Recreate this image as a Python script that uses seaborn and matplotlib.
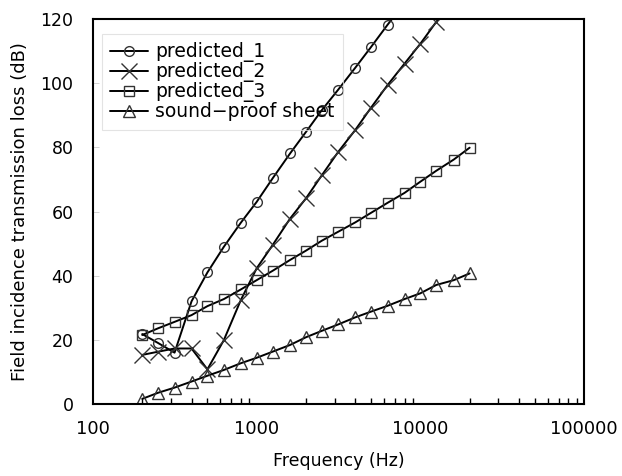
import matplotlib
matplotlib.use("Agg")
import matplotlib.pyplot as plt
import seaborn as sns
import numpy as np
from matplotlib.ticker import LogLocator, FixedLocator, NullFormatter

# 1/3-octave band centre frequencies (Hz)
freq = [200, 250, 315, 400, 500, 630, 800, 1000, 1250, 1600, 2000, 2500,
        3150, 4000, 5000, 6300, 8000, 10000, 12500, 16000, 20000]

pred1_freq = freq[:17]
pred1 = [21.8, 19.0, 16.0, 32.0, 41.0, 49.0, 56.5, 63.0, 70.3, 78.1, 84.8,
         91.6, 98.0, 104.8, 111.3, 118.2, 125.0]

pred2_freq = freq[:20]
pred2 = [15.3, 16.3, 17.3, 17.3, 10.8, 19.9, 32.4, 42.3, 49.5, 57.8, 64.1,
         71.3, 78.6, 85.4, 92.4, 99.4, 106.1, 112.3, 119.1, 126.0]

pred3 = [21.5, 23.6, 25.6, 27.7, 30.5, 32.7, 35.7, 38.6, 41.5, 44.9, 47.8,
         50.9, 53.7, 56.6, 59.6, 62.7, 65.8, 69.3, 72.7, 76.2, 79.9]

sheet = [1.6, 3.5, 5.1, 7.0, 8.8, 10.6, 12.7, 14.4, 16.3, 18.4, 20.8,
         22.8, 24.8, 27.0, 28.8, 30.6, 32.7, 34.5, 37.1, 38.6, 40.7]

labels = ["predicted_1", "predicted_2", "predicted_3", "sound\u2212proof sheet"]
xtick_vals = [100, 1000, 10000, 100000]
xtick_labels = ['100', '1000', '10000', '100000']
ytick_vals = [0, 20, 40, 60, 80, 100, 120]

sns.set_style("white")
plt.rcParams['font.family'] = ['DejaVu Sans']
plt.rcParams['text.color'] = 'black'
plt.rcParams['axes.labelcolor'] = 'black'
plt.rcParams['xtick.color'] = 'black'
plt.rcParams['ytick.color'] = 'black'

fig = plt.figure(figsize=(6.22, 4.76), dpi=100)
ax = fig.add_axes([0.1495, 0.1513, 0.7895, 0.8087])

series = [
    (pred1_freq, pred1, 'o', 7, labels[0]),
    (pred2_freq, pred2, 'x', 11.5, labels[1]),
    (freq, pred3, 's', 7, labels[2]),
    (freq, sheet, '^', 8, labels[3]),
]
for xs, ys, m, ms, lab in series:
    sns.lineplot(x=xs, y=ys, ax=ax, color='black', linewidth=1.4,
                 marker=m, markersize=ms, markerfacecolor='none',
                 markeredgecolor='#333333', markeredgewidth=1.0,
                 label=lab, estimator=None, sort=False)

ax.set_xscale('log')
ax.set_xlim(100, 100000)
ax.set_ylim(0, 120)
ax.set_yticks(ytick_vals)
ax.xaxis.set_major_locator(FixedLocator(xtick_vals))
ax.set_xticklabels(xtick_labels)
ax.xaxis.set_minor_locator(LogLocator(base=10, subs=np.arange(2, 10)))
ax.xaxis.set_minor_formatter(NullFormatter())

ax.tick_params(axis='x', which='major', direction='in', length=7, width=1.2,
               pad=11.5, labelsize=13, labelcolor='black')
ax.tick_params(axis='x', which='minor', direction='in', length=4, width=1.0,
               bottom=True)
ax.tick_params(axis='y', which='major', direction='in', length=4, width=0.6,
               color='#cccccc', pad=14, labelsize=12.5, left=True,
               labelcolor='black')

for sp in ax.spines.values():
    sp.set_color('black')
    sp.set_linewidth(1.5)

ax.set_xlabel('Frequency (Hz)', fontsize=12.5, labelpad=10)
ax.set_ylabel('Field incidence transmission loss (dB)', fontsize=13, labelpad=8)

leg = ax.legend(loc='upper left', bbox_to_anchor=(0.018, 0.962), fontsize=13.5,
                frameon=True, fancybox=False, edgecolor='#dddddd',
                facecolor='none', framealpha=None,
                handlelength=2.0, labelspacing=0.0, borderpad=0.45,
                handletextpad=0.4, borderaxespad=0.0)
leg.get_frame().set_linewidth(0.8)
for t in leg.get_texts():
    t.set_color('black')

fig.savefig('out.png', dpi=100, facecolor='white')
